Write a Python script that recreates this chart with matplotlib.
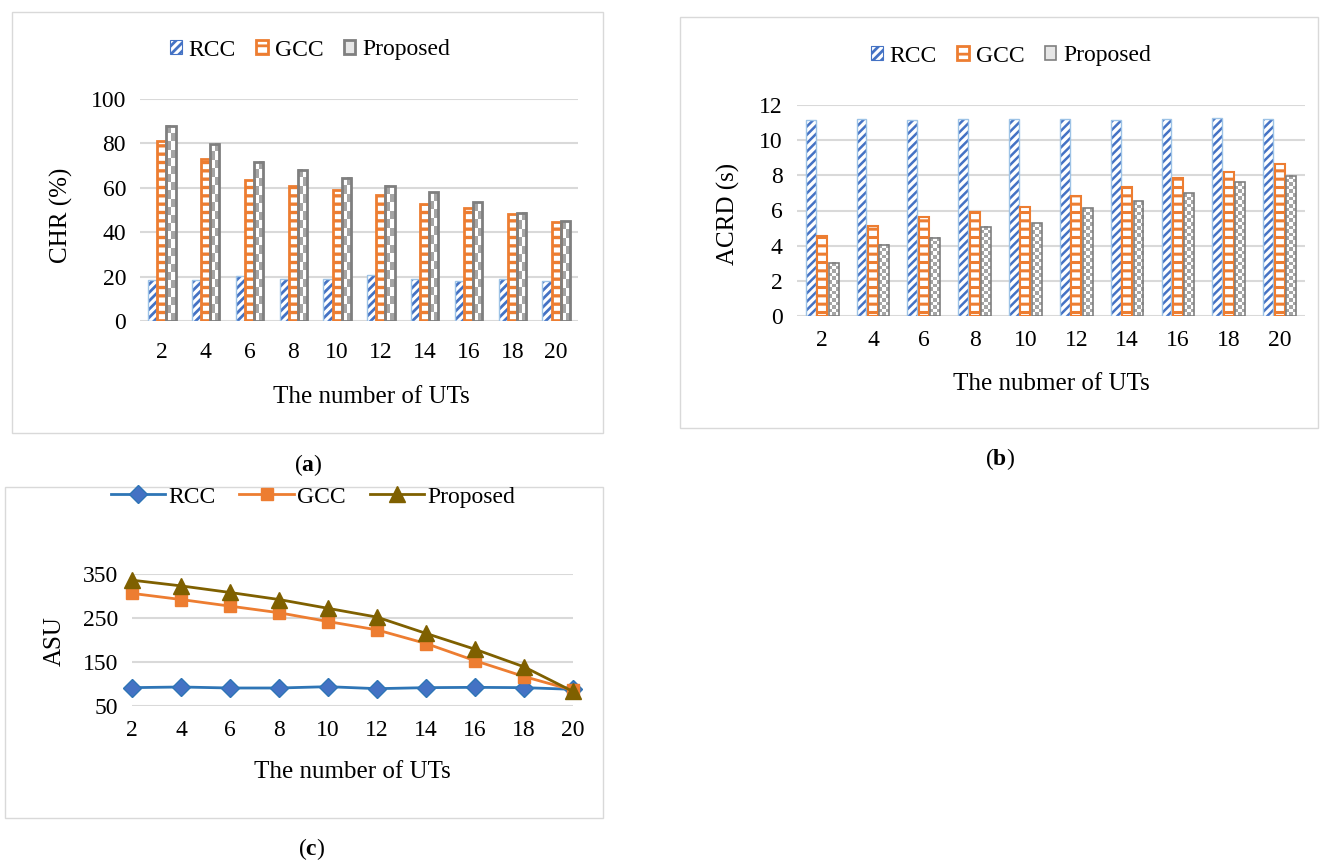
import numpy as np
import matplotlib
matplotlib.use('Agg')
import matplotlib.pyplot as plt
from matplotlib.patches import Rectangle, Patch
from matplotlib.lines import Line2D
from matplotlib.colors import ListedColormap

plt.rcParams['font.family'] = ['Liberation Serif', 'DejaVu Serif']
plt.rcParams['mathtext.fontset'] = 'custom'
plt.rcParams['mathtext.rm'] = 'Liberation Serif'
plt.rcParams['mathtext.bf'] = 'Liberation Serif:bold'
plt.rcParams['hatch.linewidth'] = 2.0

# ---------------- data ----------------
num_uts = [2, 4, 6, 8, 10, 12, 14, 16, 18, 20]
series_names = ['RCC', 'GCC', 'Proposed']

chr_rcc = [18.3, 18.4, 20.2, 18.9, 18.7, 20.5, 18.7, 18.0, 18.9, 18.0]
chr_gcc = [81.3, 73.0, 63.7, 60.9, 58.9, 56.7, 52.5, 51.0, 48.0, 44.5]
chr_prop = [88.0, 79.9, 71.8, 68.1, 64.5, 61.0, 57.9, 53.4, 48.7, 45.0]

acrd_rcc = [11.14, 11.22, 11.14, 11.20, 11.22, 11.22, 11.14, 11.18, 11.24, 11.22]
acrd_gcc = [4.53, 5.12, 5.62, 5.92, 6.21, 6.84, 7.35, 7.87, 8.21, 8.63]
acrd_prop = [3.03, 4.04, 4.44, 5.07, 5.28, 6.13, 6.53, 6.99, 7.60, 7.98]

asu_rcc = [91.7, 93.2, 90.9, 90.9, 93.9, 89.4, 91.7, 92.4, 91.7, 87.9]
asu_gcc = [306, 292, 277, 262, 242, 223, 192, 153, 117, 86]
asu_prop = [336, 323, 308, 292, 272, 252, 215, 179, 139, 83]

chr_yticks = [0, 20, 40, 60, 80, 100]
acrd_yticks = [0, 2, 4, 6, 8, 10, 12]
asu_yticks = [50, 150, 250, 350]

# ---------------- styling ----------------
W, H = 1323, 861
BLUE = '#4472C4'
LBLUE = '#9DC3E6'
ORANGE = '#ED7D31'
GREY = '#A5A5A5'
DGREY = '#7F7F7F'
OLIVE = '#7F6000'
GRID = '#D9D9D9'
TICK_FS = 17
LAB_FS = 18

fig = plt.figure(figsize=(W / 100, H / 100), dpi=100)


def px_axes(l, t, r, b):
    return fig.add_axes([l / W, 1 - b / H, (r - l) / W, (b - t) / H])


def ftext(x, y, s, **kw):
    fig.text(x / W, 1 - y / H, s, ha='center', va='center', **kw)


def frame(l, t, r, b):
    fig.patches.append(Rectangle((l / W, 1 - b / H), (r - l) / W, (b - t) / H,
                                 transform=fig.transFigure, fill=False,
                                 edgecolor=GRID, lw=1.0))


def style(ax):
    for s in ax.spines.values():
        s.set_visible(False)
    ax.tick_params(length=0, labelsize=TICK_FS)
    ax.yaxis.grid(True, color=GRID, lw=1.5)
    ax.set_axisbelow(True)


def hatched_bars(ax, x, vals, w, color, hatch, hlw, outline, olw):
    with plt.rc_context({'hatch.linewidth': hlw}):
        bars = ax.bar(x, vals, w, color='white', edgecolor=color, hatch=hatch,
                      lw=0, zorder=2)
    for b in bars:
        if hasattr(b, 'set_hatch_linewidth'):
            b.set_hatch_linewidth(hlw)
    ax.bar(x, vals, w, fill=False, edgecolor=outline, lw=olw, zorder=3)


def checker_bars(ax, x, vals, w, nx, cell_px, px_per_unit, olw):
    bars = ax.bar(x, vals, w, fill=False, edgecolor=DGREY, lw=olw, zorder=3)
    cmap = ListedColormap(['white', GREY])
    for b in bars:
        x0, bw, bh = b.get_x(), b.get_width(), b.get_height()
        ny = max(1, int(round(bh * px_per_unit / cell_px)))
        tex = np.add.outer(np.arange(ny), np.arange(nx)) % 2
        ax.imshow(tex, extent=(x0, x0 + bw, 0, bh), cmap=cmap, vmin=0, vmax=1,
                  interpolation='nearest', aspect='auto', origin='lower',
                  zorder=2)
    return bars


x = np.arange(len(num_uts))

# ---------------- panel (a) ----------------
frame(12, 12, 603, 433)
axa = px_axes(140, 99, 578, 321)
style(axa)
wa = 0.21
hatched_bars(axa, x - wa, chr_rcc, wa, BLUE, '////', 2.0, LBLUE, 1.0)
hatched_bars(axa, x, chr_gcc, wa, ORANGE, '--', 2.4, ORANGE, 2.0)
checker_bars(axa, x + wa, chr_prop, wa, 2, 8.3, 222 / 100, 2.0)
axa.set_xlim(-0.5, len(num_uts) - 0.5)
axa.set_ylim(0, 100)
axa.set_yticks(chr_yticks)
axa.set_xticks(x)
axa.set_xticklabels([str(v) for v in num_uts])
axa.tick_params(axis='x', pad=15)
axa.tick_params(axis='y', pad=10)
ftext(371, 397, 'The number of UTs', fontsize=LAB_FS)
ftext(61, 215, 'CHR (%)', fontsize=LAB_FS, rotation=90)

leg_a = [Patch(facecolor='white', edgecolor=BLUE, hatch='////', lw=0.8),
         Patch(facecolor='white', edgecolor=ORANGE, hatch='--', lw=2),
         Patch(facecolor='#E6E6E6', edgecolor=DGREY, lw=2)]
fig.legend(leg_a, series_names, loc='center', bbox_to_anchor=(310 / W, 1 - 50 / H),
           ncol=3, frameon=False, fontsize=TICK_FS, handlelength=0.5,
           handleheight=0.5, handletextpad=0.3, columnspacing=0.85)
ftext(308, 465, r'$\mathrm{(}\mathbf{a}\mathrm{)}$', fontsize=17)

# ---------------- panel (b) ----------------
frame(680, 17, 1318, 428)
axb = px_axes(796.7, 105, 1305, 316)
style(axb)
wb = 0.195
sb = 0.225
hatched_bars(axb, x - sb, acrd_rcc, wb, BLUE, '////', 1.8, LBLUE, 1.0)
hatched_bars(axb, x, acrd_gcc, wb, ORANGE, '--', 2.2, ORANGE, 1.5)
checker_bars(axb, x + sb, acrd_prop, wb, 3, 3.6, 211 / 12, 1.2)
axb.set_xlim(-0.5, len(num_uts) - 0.5)
axb.set_ylim(0, 12)
axb.set_yticks(acrd_yticks)
axb.set_xticks(x)
axb.set_xticklabels([str(v) for v in num_uts])
axb.tick_params(axis='x', pad=10)
axb.tick_params(axis='y', pad=10)
ftext(1051, 384, 'The nubmer of UTs', fontsize=LAB_FS)
ftext(728, 214, 'ACRD (s)', fontsize=LAB_FS, rotation=90)

leg_b = [Patch(facecolor='white', edgecolor=BLUE, hatch='////', lw=0.8),
         Patch(facecolor='white', edgecolor=ORANGE, hatch='--', lw=2),
         Patch(facecolor='#E6E6E6', edgecolor=DGREY, lw=1.2)]
fig.legend(leg_b, series_names, loc='center', bbox_to_anchor=(1011 / W, 1 - 56 / H),
           ncol=3, frameon=False, fontsize=TICK_FS, handlelength=0.5,
           handleheight=0.5, handletextpad=0.3, columnspacing=0.85)
ftext(1000, 459, r'$\mathrm{(}\mathbf{b}\mathrm{)}$', fontsize=17)

# ---------------- panel (c) ----------------
frame(5, 487, 603, 818)
axc = px_axes(132, 574, 573, 706)
style(axc)
axc.plot(num_uts, asu_rcc, color='#2E75B6', lw=2, marker='D', ms=9,
         mfc=BLUE, mec='#2E75B6', clip_on=False, zorder=3, label='RCC')
axc.plot(num_uts, asu_gcc, color=ORANGE, lw=2, marker='s', ms=9,
         mfc=ORANGE, mec=ORANGE, clip_on=False, zorder=4, label='GCC')
axc.plot(num_uts, asu_prop, color=OLIVE, lw=2, marker='^', ms=11,
         mfc=OLIVE, mec=OLIVE, clip_on=False, zorder=5, label='Proposed')
axc.set_xlim(num_uts[0], num_uts[-1])
axc.set_ylim(50, 350)
axc.set_yticks(asu_yticks)
axc.set_xticks(num_uts)
axc.tick_params(axis='x', pad=10)
axc.tick_params(axis='y', pad=10)
ftext(352, 772, 'The number of UTs', fontsize=LAB_FS)
ftext(55, 641, 'ASU', fontsize=LAB_FS, rotation=90)
h, l = axc.get_legend_handles_labels()
fig.legend(h, l, loc='center', bbox_to_anchor=(313 / W, 1 - 497 / H),
           ncol=3, frameon=False, fontsize=TICK_FS, handlelength=2.3,
           handletextpad=0.15, columnspacing=1.0)
ftext(312, 849, r'$\mathrm{(}\mathbf{c}\mathrm{)}$', fontsize=17)

fig.savefig('out.png', dpi=100)
